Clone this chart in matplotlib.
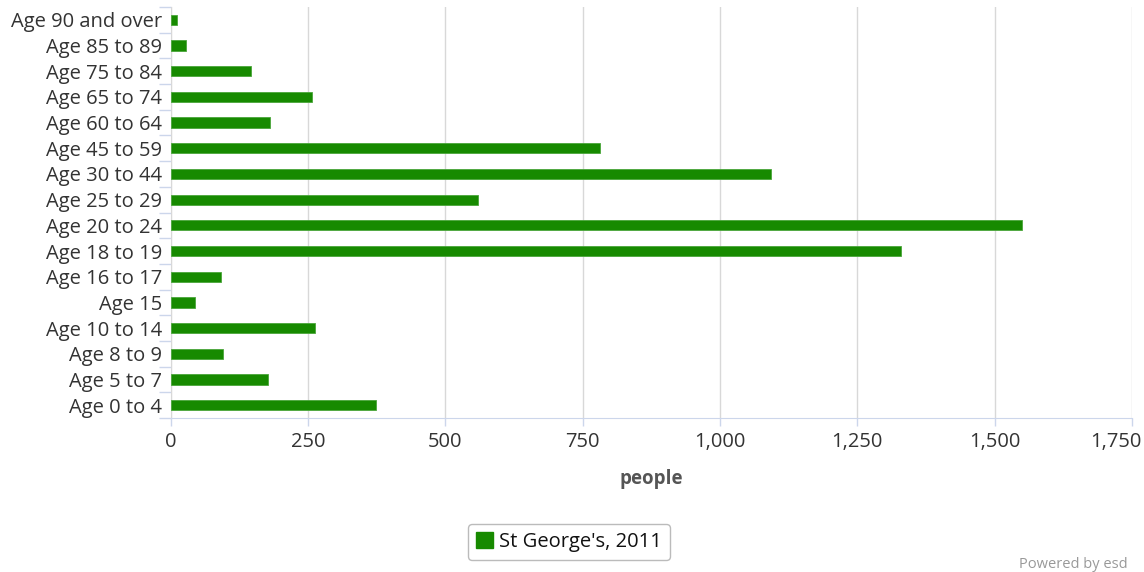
import numpy as np
import matplotlib.pyplot as plt
import matplotlib.transforms as mtransforms
from matplotlib.ticker import FuncFormatter, FixedLocator

plt.rcParams['font.family'] = ['Open Sans', 'DejaVu Sans']

# 数据
age_groups = ["Age 90 and over", "Age 85 to 89", "Age 75 to 84", "Age 65 to 74",
              "Age 60 to 64", "Age 45 to 59", "Age 30 to 44", "Age 25 to 29",
              "Age 20 to 24", "Age 18 to 19", "Age 16 to 17", "Age 15",
              "Age 10 to 14", "Age 8 to 9", "Age 5 to 7", "Age 0 to 4"]
people = [12, 27, 147, 257, 180, 782, 1092, 559,
          1550, 1329, 92, 45, 263, 95, 178, 373]
series_name = "St George's, 2011"
x_ticks = [0, 250, 500, 750, 1000, 1250, 1500, 1750]

bar_color = '#178a00'
grid_color = '#d8d8d8'
axis_color = '#ccd6eb'
text_color = '#333333'

fig = plt.figure(figsize=(11.44, 5.72), dpi=100)
ax = fig.add_axes([170.7 / 1144, 1 - 418 / 572, (1132 - 170.7) / 1144, (418 - 7) / 572])

y_pos = np.arange(len(age_groups))
ax.barh(y_pos, people, height=0.4, color=bar_color, edgecolor='#4aa63a', linewidth=0.6, zorder=3)

ax.set_ylim(len(age_groups) - 0.5, -0.5)
ax.set_xlim(0, 1750)

# 坐标轴
ax.set_yticks(y_pos)
ax.set_yticklabels(age_groups, fontsize=14.5, color=text_color)
ax.yaxis.set_minor_locator(FixedLocator(np.arange(-0.5, len(age_groups), 1)))
ax.tick_params(axis='y', which='major', length=0, pad=6)
ax.tick_params(axis='y', which='minor', length=9, color=axis_color, width=1)

ax.xaxis.set_major_locator(FixedLocator(x_ticks))
ax.xaxis.set_major_formatter(FuncFormatter(lambda v, p: f"{int(v):,}"))
ax.tick_params(axis='x', length=6, color=axis_color, width=1, labelsize=14.5,
               labelcolor=text_color, pad=4)

ax.grid(axis='x', color=grid_color, linewidth=1, zorder=0)

for side in ['top', 'right']:
    ax.spines[side].set_visible(False)
ax.spines['bottom'].set_color(axis_color)
ax.spines['left'].set_color(grid_color)

ax.set_xlabel("people", fontsize=13.5, fontweight='bold', color='#555555', labelpad=12)

# 最后一个刻度标签往左挪, 不超出画布
fig.canvas.draw()
last_label = ax.get_xticklabels()[-1]
last_label.set_transform(last_label.get_transform() +
                         mtransforms.ScaledTranslation(-16 / 100, 0, fig.dpi_scale_trans))

# 图例
leg = fig.legend([plt.Rectangle((0, 0), 1, 1, color=bar_color)], [series_name],
                 loc='center', bbox_to_anchor=(569 / 1144, 1 - 542 / 572),
                 fontsize=14.5, frameon=True, fancybox=True, handlelength=0.8,
                 handleheight=0.8, handletextpad=0.3, borderpad=0.4)
leg.get_frame().set_edgecolor('#aaaaaa')
leg.get_frame().set_linewidth(1)
for t in leg.get_texts():
    t.set_color('#111111')

fig.text(1128 / 1144, 1 - 564 / 572, "Powered by esd", ha='right', va='center',
         fontsize=10.5, color='#999999')

plt.savefig('out.png', dpi=100)
